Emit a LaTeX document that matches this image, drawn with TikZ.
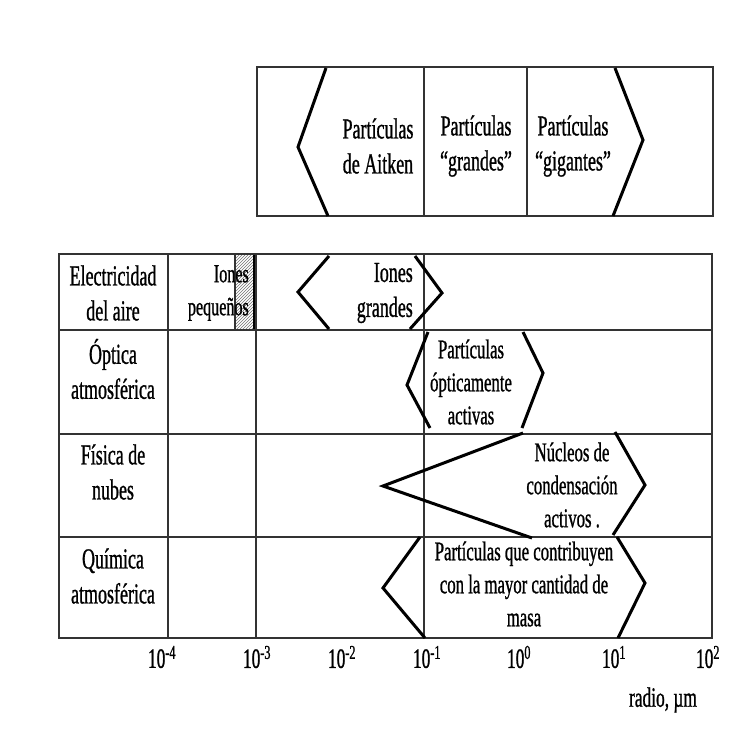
\documentclass[tikz,border=0pt]{standalone}
\usepackage{fontspec}
\setmainfont{Liberation Serif}
\newfontfamily\narrowserif[FakeStretch=0.62,FakeBold=0.9]{Liberation Serif}
\usetikzlibrary{patterns}

\begin{document}
\begin{tikzpicture}[x=1pt, y=-1pt,
  grid/.style={draw=black!80, line width=1.5pt},
  chev/.style={draw=black, line width=3pt},
  txt/.style={font=\narrowserif\fontsize{29}{35}\selectfont, align=center, inner sep=0pt},
  smalltxt/.style={font=\narrowserif\fontsize{26}{33}\selectfont, align=right, inner sep=0pt},
  ticklbl/.style={font=\narrowserif\fontsize{28}{30}\selectfont, inner sep=0pt}
]
\useasboundingbox (0,0) rectangle (733,734);

% upper box: particle classes
\draw[grid] (257,67) rectangle (713,216);
\draw[grid] (424,67) -- (424,216);
\draw[grid] (527,67) -- (527,216);
\draw[chev] (326,68) -- (298,147) -- (328,216);
\draw[chev] (615,68) -- (643,140) -- (613,216);
\node[txt] (aitken) at (378,146) {Partículas\\de Aitken};
\node[txt] (grandes) at (476,146) {Partículas\\“grandes”};
\node[txt] (gigantes) at (573,146) {Partículas\\“gigantes”};

% table
\fill[pattern=north east lines, pattern color=black!55] (235,254) rectangle (254,330);
\draw[grid] (235,254) -- (235,330);
\draw[black, line width=2.6pt] (254,254) -- (254,330);
\draw[grid] (59,254) rectangle (712,638);
\foreach \y in {330,434,537}
  \draw[grid] (59,\y) -- (712,\y);
\foreach \x in {168,256,424}
  \draw[grid] (\x,254) -- (\x,638);

% rows
\node[txt] (elec) at (113,293) {Electricidad\\del aire};
\node[txt] (optica) at (113,369) {Óptica\\atmosférica};
\node[txt] (fisica) at (113,472) {Física de\\nubes};
\node[txt] (quimica) at (113,576) {Química\\atmosférica};

\node[smalltxt, anchor=east] (ionpeq) at (249,293) {Iones\\pequeños};
\draw[chev] (329,256) -- (298,292) -- (329,329);
\draw[chev] (415,256) -- (442,293) -- (410,329);
\node[txt, align=right, anchor=east] (iongr) at (413,293) {Iones\\grandes};

\draw[chev] (428,332) -- (407,385) -- (430,428);
\draw[chev] (523,332) -- (543,373) -- (522,428);
\node[txt, font=\narrowserif\fontsize{27}{33}\selectfont] (optact) at (471,382) {Partículas\\ópticamente\\activas};

\draw[chev] (523,433) -- (383,486) -- (532,538);
\draw[chev] (615,432) -- (645,485) -- (613,535);
\node[txt, font=\narrowserif\fontsize{27}{33}\selectfont] (nucleos) at (572,485) {Núcleos de\\condensación\\activos .};

\draw[chev] (420,537) -- (383,588) -- (425,638);
\draw[chev] (617,537) -- (645,583) -- (618,638);
\node[txt, font=\narrowserif\fontsize{27}{33}\selectfont] (masa) at (524,584) {Partículas que contribuyen\\con la mayor cantidad de\\masa};

% axis
\foreach \e/\x [count=\i] in {-4/162,-3/257,-2/342,-1/427,0/519,1/614,2/708}
  \node[ticklbl] (tick\i) at (\x,657) {10\textsuperscript{\e}};
\node[ticklbl] (radio) at (663,700) {radio, µm};
\end{tikzpicture}
\end{document}
